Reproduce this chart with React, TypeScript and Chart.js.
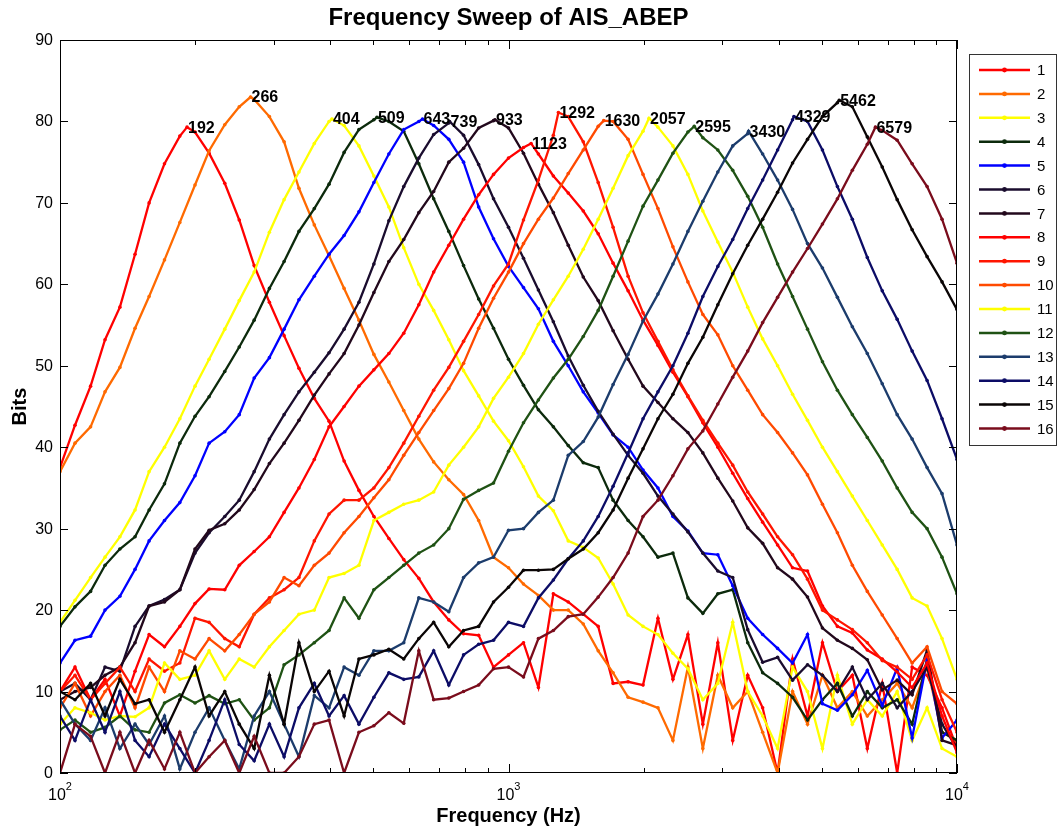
import React, { useEffect, useRef } from "react";
import { Chart, registerables } from "chart.js";

Chart.register(...registerables);

// Sweep frequencies (Hz), shared by every channel
const freqs = [
  100, 108, 117, 126, 136, 147, 158, 171, 185, 200,
  215, 233, 251, 271, 293, 316, 341, 369, 398, 430,
  464, 501, 541, 584, 631, 681, 736, 794, 858, 926,
  1000, 1080, 1166, 1259, 1359, 1468, 1585, 1711, 1848, 1995,
  2154, 2326, 2512, 2712, 2929, 3162, 3415, 3687, 3981, 4299,
  4642, 5012, 5412, 5843, 6310, 6813, 7356, 7943, 8577, 9261, 10000,
];

const channelNames = ["1", "2", "3", "4", "5", "6", "7", "8", "9", "10", "11", "12", "13", "14", "15", "16"];

const channelColors = [
  "#ff0000", "#ff6a00", "#ffff00", "#0c2a0c", "#0000ff", "#1a0c2e", "#22081c", "#ff0000",
  "#ff1500", "#ff4a00", "#ffff00", "#1f5214", "#1c3c6c", "#0c0c66", "#0a0505", "#7a0c1c",
];

// Bits measured per channel at each sweep frequency
const ch1 = [
  37.5, 42.7, 47.5, 53.2, 57.2, 63.7, 70, 74.8, 78.2, 78.7,
  76.1, 72.4, 67.9, 62.3, 57.8, 53.7, 49.7, 46, 43.2, 38.3,
  34.7, 31.5, 28.8, 26.2, 23.9, 21, 18.8, 17.1, 16.9, 13,
  14.5, 16, 10.5, 22, 21, 19.5, 18, 11, 11.2, 10.8,
  19, 11.5, 17, 6, 16, 4, 12, 8, 0, 14,
  7, 16, 10, 12, 3, 11, 0, 13, 12, 8, 3,
];
const ch2 = [
  37, 40.5, 42.5, 46.8, 49.8, 54.6, 58.5, 63, 67.6, 72.2,
  76.4, 79.6, 81.8, 82.7, 80.6, 77.5, 71.8, 67.3, 63.5, 59.5,
  55.6, 51.4, 48, 44.5, 41, 38.2, 36, 34.2, 31, 26.5,
  25.2, 23.2, 21.8, 20, 20, 18.3, 15, 12.3, 9.3, 8.7,
  8, 4, 13, 3, 12, 8, 10, 5, 0, 10,
  6, 12, 8, 10, 7, 9, 11, 8, 13, 5, 4,
];
const ch3 = [
  18.5, 21.2, 24, 26.5, 29, 32.3, 37, 40, 43.5, 47.5,
  50.8, 54.5, 58, 61.5, 66.4, 70.4, 73.8, 77.3, 80, 79.5,
  77, 73.3, 69.5, 64.5, 60, 56.8, 53.2, 49.4, 46.3, 43.2,
  40.8, 37.6, 34, 32.2, 28.5, 27.7, 26.4, 23.2, 19.4, 18,
  17, 14.7, 12.8, 9, 11, 18.5, 10, 7, 3, 13,
  10, 3, 12, 6, 9, 7, 10, 4, 8, 3, 2,
];
const ch4 = [
  18, 20.4, 22.3, 25.5, 27.5, 29, 32.3, 35.5, 40.5, 43.8,
  46.2, 49.3, 52.3, 55.6, 59.5, 62.8, 66.5, 69.3, 72.3, 76.2,
  79, 80.2, 80, 78.8, 74.8, 70.5, 66.5, 62.3, 58.2, 54.6,
  50.8, 47.6, 44.6, 42.5, 40.2, 38.1, 37.5, 33.5, 31, 29,
  26.5, 27, 21.5, 19.6, 22, 22.5, 16, 12.3, 11, 9.3,
  6.5, 9, 11, 7, 10, 8, 9, 6, 14, 5, 4,
];
const ch5 = [
  13.5, 16.3, 16.8, 20, 21.7, 25, 28.5, 31, 33.2, 36.5,
  40.5, 41.9, 44, 48.5, 51, 54.5, 58.1, 61, 63.7, 66,
  68.9, 72.5, 76, 79, 80, 79.5, 77.8, 75, 69.5, 65.6,
  62.2, 59.6, 57, 53, 50, 46.8, 44.2, 41.5, 40, 37.2,
  35, 31.5, 29.7, 27, 26.8, 23, 19, 17, 15.3, 13.5,
  17, 8.5, 7.7, 9.6, 12.6, 8.3, 12.9, 4.3, 13.9, 4.3, 6.5,
];
const ch6 = [
  10, 11, 9, 13, 12.5, 18, 20.5, 21.3, 22.5, 27,
  29.5, 31.5, 33.5, 37, 41, 44, 46.8, 49.2, 51.6, 54.5,
  57.8, 62.5, 67.8, 72, 75.5, 78.4, 79.8, 78.3, 74.7, 70.5,
  67, 63.2, 59.3, 55.4, 51.2, 47.6, 44.4, 41.6, 39, 36.8,
  34, 31.8, 29.6, 27, 24.8, 24, 17.6, 13.6, 14.2, 11.4,
  13.3, 12, 10, 13, 9, 11, 8, 10, 13, 6, 3,
];
const ch7 = [
  9, 10, 10.5, 12, 13, 16, 20.5, 21, 22.5, 27.5,
  29.8, 30.6, 32.3, 34.8, 38, 40.5, 43.3, 46.4, 49, 51.5,
  55, 59, 62.8, 65.5, 68.8, 71.4, 75, 76.7, 79.2, 80.1,
  79.2, 76.1, 72.3, 68.8, 64.8, 60.9, 58, 54.3, 50.8, 47.5,
  45.5, 43.5, 41.8, 39.3, 36.2, 33.4, 30.1, 28.2, 25.2, 23.8,
  21.6, 17.8, 16.3, 15.3, 13.9, 10.2, 11.4, 9.6, 15.1, 4, 3.4,
];
const ch8 = [
  10, 13, 9, 11.5, 7, 12.5, 17, 15.5, 18, 20.8,
  22.6, 22.5, 25.5, 27.2, 29, 32, 35, 38.5, 42.5, 45,
  47.5, 49.5, 51.5, 54, 57.5, 61.5, 64.8, 68, 71, 73.5,
  75.5, 76.8, 76, 73.3, 71.2, 69, 66.2, 62.6, 59.2, 55.6,
  52.5, 49.2, 46.2, 43, 40, 36.8, 33.7, 30.8, 28, 25.2,
  24.8, 20.5, 18, 17.2, 15.1, 14, 12.4, 10.5, 13.5, 7, 2.5,
];
const ch9 = [
  10, 12, 9, 11, 13, 10, 14, 12.5, 13.5, 19,
  18.5, 16.5, 15.5, 19.5, 21.5, 22.5, 24, 28.5, 31.8, 33.5,
  33.5, 35, 37.5, 40.5, 43.8, 47, 49.8, 53, 56.3, 59.8,
  62.5, 67.9, 72.8, 78.3, 80.6, 77.5, 72.5, 67, 61, 56.5,
  53, 49.5, 46.3, 43.3, 40.5, 37.8, 34.5, 31.8, 29, 26.8,
  23.8, 20, 18.8, 17.6, 16, 13.8, 13, 11.5, 14.5, 9, 5,
];
const ch10 = [
  8, 11, 7, 10, 12, 8, 13, 10, 15, 14,
  16.5, 15, 17, 19.5, 21, 24, 23, 25.5, 27, 29.5,
  31.5, 33.8, 36, 39, 41.8, 44.5, 47.2, 50.3, 54.6, 58.3,
  61.5, 65, 68, 70.6, 73.6, 76.5, 79.4, 80, 77.8, 73.5,
  69.3, 64.6, 60.3, 56.3, 53.8, 50, 47, 44, 41.8, 39.3,
  36.6, 33, 29.5, 25.5, 22.3, 19.4, 16.5, 13.5, 15.5, 10, 8.5,
];
const ch11 = [
  6, 8, 7.4, 6.5, 7, 6.9, 8, 13.5, 11.5, 12,
  15, 11.5, 14, 13, 15.5, 17.5, 19.5, 20, 24, 24.5,
  25.5, 31, 32, 33, 33.5, 34.5, 37.8, 40, 42.5, 46,
  48.6, 51.5, 55.1, 58.1, 61, 64.3, 68, 71.8, 75.8, 78.8,
  79.3, 77, 73.5, 69, 65.2, 61.5, 57.2, 53.3, 50, 46.5,
  43.3, 40, 37, 34, 31, 28, 25, 21.5, 20.5, 16.5, 11.5,
];
const ch12 = [
  5.3, 6.5, 5, 5.6, 7, 5.3, 5, 8.6, 9.6, 8.6,
  9.5, 8.5, 9, 6.5, 8, 13.3, 14.5, 16, 17.5, 21.5,
  19, 22.5, 24, 25.5, 27, 28, 30, 33.6, 34.7, 35.6,
  39.5, 43, 45.8, 48.5, 50.8, 53.6, 56.8, 61, 65.3, 69.6,
  72.8, 76.1, 78.7, 78, 76.5, 74, 70.8, 67, 62.5, 58.5,
  54.5, 50.5, 47, 44, 41.2, 38.3, 35, 32, 30, 26.5, 22,
];
const ch13 = [
  9, 6, 4, 8, 3, 6, 3.5, 7, 0.5, 5,
  8, 4, 0.5, 7, 10, 6, 2, 9.5, 8, 13,
  12, 15, 15, 16, 21.5, 21, 19.8, 24, 25.8, 26.5,
  29.8, 30, 32, 33.5, 39, 40.7, 43.7, 47.7, 51.4, 55.5,
  58.8, 62.5, 66.5, 70.2, 73.8, 77, 78.5, 76, 72.8, 69.2,
  65, 62, 58.4, 54.8, 51.5, 47.8, 44, 41, 37.5, 34.3, 28,
];
const ch14 = [
  7, 4, 9, 5, 10, 4, 2, 6, 3, 0,
  4, 9, 3.5, 1.5, 6, 2, 8, 11, 7, 9.5,
  6, 9.3, 12.3, 11.5, 11.8, 15, 10.8, 14.5, 15.8, 16.3,
  18.5, 18, 21.5, 23.7, 26.3, 28.5, 31.5, 35.2, 39.3, 43.5,
  46.8, 50, 54, 58.5, 62.2, 65.5, 69.3, 72.8, 76.5, 80.2,
  80, 76.5, 72, 68, 63.3, 59.2, 55.7, 51.8, 48.2, 43.5, 38.5,
];
const ch15 = [
  10, 9, 11, 7, 11.5, 8.5, 9, 5, 9, 13,
  7, 10, 6, 3, 12, 6, 16, 10, 12.5, 7,
  14, 14.5, 15.2, 14, 16.5, 18.5, 15.5, 17.5, 18, 21,
  22.8, 24.9, 24.9, 25, 26.3, 27.5, 29.5, 32.3, 36.2, 39.8,
  43.5, 46.5, 50.3, 53.5, 57.5, 61.3, 64.8, 68, 71.3, 74.9,
  77.8, 80.6, 82.3, 81.8, 78.1, 74.4, 70.4, 66.7, 63.4, 60.3, 56.9,
];
const ch16 = [
  0, 6, 4.5, 0, 5, 0, 4, 0.5, 5, 0,
  2, 4, 0, 4.5, 0, 0, 2, 6, 6.5, 0,
  5, 5.8, 7.4, 6.1, 15, 9, 9.2, 10, 10.8, 12.8,
  13, 11.8, 16.5, 17.5, 19.2, 19.5, 21.6, 24, 27, 31.5,
  33.5, 36.5, 39.8, 42, 45.3, 48.6, 51.8, 55.3, 58.4, 61.5,
  64.4, 67.4, 70.5, 74, 77.2, 78.9, 77.7, 74.8, 72, 68, 62.6,
];

// Centre frequency (Hz) and peak level of each channel
const peakFreqs = [192, 266, 404, 509, 643, 739, 933, 1123, 1292, 1630, 2057, 2595, 3430, 4329, 5462, 6579];
const peakVals = [79.3, 83, 80.3, 80.5, 80.3, 80, 80.2, 77.3, 81.1, 80.1, 80.4, 79.4, 78.8, 80.6, 82.6, 79.3];

const yTicks = [0, 10, 20, 30, 40, 50, 60, 70, 80, 90];
const xDecades = [100, 1000, 10000];
const xDecadeExps = ["2", "3", "4"];
const xMinorTicks = [200, 300, 400, 500, 600, 700, 800, 900, 2000, 3000, 4000, 5000, 6000, 7000, 8000, 9000];

const channelValues = [ch1, ch2, ch3, ch4, ch5, ch6, ch7, ch8, ch9, ch10, ch11, ch12, ch13, ch14, ch15, ch16];

const FONT = '"Liberation Sans", Arial, Helvetica, sans-serif';

function channelPoints(vals: number[], pf: number, pv: number) {
  const pts = freqs.map((f, i) => ({ x: f, y: vals[i] }));
  pts.push({ x: pf, y: pv });
  pts.sort((a, b) => a.x - b.x);
  return pts;
}

const decorations = {
  id: "decorations",
  afterDatasetsDraw(chart: any) {
    const { ctx, chartArea: a, scales } = chart;
    const xs = scales.x;
    const ys = scales.y;
    ctx.save();

    // centre-frequency labels at each peak
    ctx.fillStyle = "#000";
    ctx.font = `bold 16px ${FONT}`;
    ctx.textAlign = "left";
    ctx.textBaseline = "middle";
    peakFreqs.forEach((f, i) => {
      ctx.fillText(String(f), xs.getPixelForValue(f) + 1, ys.getPixelForValue(peakVals[i]) + 1);
    });

    // axes box
    ctx.strokeStyle = "#000";
    ctx.lineWidth = 1;
    ctx.strokeRect(a.left + 0.5, a.top + 0.5, a.right - a.left - 1, a.bottom - a.top - 1);

    // y ticks (left and right, pointing inward) and labels
    ctx.font = `16px ${FONT}`;
    ctx.textAlign = "right";
    ctx.textBaseline = "middle";
    yTicks.forEach((v) => {
      const y = Math.round(ys.getPixelForValue(v)) + 0.5;
      ctx.beginPath();
      ctx.moveTo(a.left, y);
      ctx.lineTo(a.left + 8, y);
      ctx.moveTo(a.right, y);
      ctx.lineTo(a.right - 8, y);
      ctx.stroke();
      ctx.fillText(String(v), a.left - 7, y);
    });

    // x ticks (top and bottom, inward)
    const xTick = (f: number, len: number) => {
      const x = Math.round(xs.getPixelForValue(f)) + 0.5;
      ctx.beginPath();
      ctx.moveTo(x, a.bottom);
      ctx.lineTo(x, a.bottom - len);
      ctx.moveTo(x, a.top);
      ctx.lineTo(x, a.top + len);
      ctx.stroke();
    };
    xMinorTicks.forEach((f) => xTick(f, 5));
    xDecades.forEach((f) => xTick(f, 9));

    // decade labels 10^n
    ctx.textAlign = "left";
    ctx.textBaseline = "alphabetic";
    xDecades.forEach((f, i) => {
      const x = xs.getPixelForValue(f);
      ctx.font = `16px ${FONT}`;
      const wBase = ctx.measureText("10").width;
      ctx.font = `11px ${FONT}`;
      const wExp = ctx.measureText(xDecadeExps[i]).width;
      const start = x - (wBase + wExp) / 2;
      ctx.font = `16px ${FONT}`;
      ctx.fillText("10", start, a.bottom + 27);
      ctx.font = `11px ${FONT}`;
      ctx.fillText(xDecadeExps[i], start + wBase, a.bottom + 17);
    });

    // titles
    const cx = (a.left + a.right) / 2;
    ctx.textAlign = "center";
    ctx.textBaseline = "middle";
    ctx.font = `bold 24px ${FONT}`;
    ctx.fillText("Frequency Sweep of AIS_ABEP", cx, 18);
    ctx.font = `bold 20px ${FONT}`;
    ctx.fillText("Frequency (Hz)", cx, a.bottom + 43);
    ctx.save();
    ctx.translate(20, (a.top + a.bottom) / 2);
    ctx.rotate(-Math.PI / 2);
    ctx.fillText("Bits", 0, 0);
    ctx.restore();

    // legend
    const lx = 969.5;
    const ly = 54.5;
    ctx.fillStyle = "#fff";
    ctx.fillRect(lx, ly, 87, 391);
    ctx.strokeStyle = "#333";
    ctx.lineWidth = 1;
    ctx.strokeRect(lx, ly, 87, 391);
    ctx.textAlign = "left";
    ctx.font = `15px ${FONT}`;
    channelNames.forEach((name, i) => {
      const y = 70 + i * 23.9;
      ctx.strokeStyle = channelColors[i];
      ctx.lineWidth = 2.5;
      ctx.beginPath();
      ctx.moveTo(979, y);
      ctx.lineTo(1030, y);
      ctx.stroke();
      ctx.fillStyle = channelColors[i];
      ctx.beginPath();
      ctx.arc(1004.5, y, 2.4, 0, Math.PI * 2);
      ctx.fill();
      ctx.fillStyle = "#000";
      ctx.fillText(name, 1037, y + 1);
    });

    ctx.restore();
  },
};

export default function App() {
  const canvasRef = useRef<HTMLCanvasElement | null>(null);

  useEffect(() => {
    const canvas = canvasRef.current;
    if (!canvas) return;
    const datasets = channelValues.map((vals, i) => ({
      label: channelNames[i],
      data: channelPoints(vals, peakFreqs[i], peakVals[i]),
      borderColor: channelColors[i],
      backgroundColor: channelColors[i],
      pointBackgroundColor: channelColors[i],
      pointBorderColor: channelColors[i],
      borderWidth: 2.3,
      pointRadius: 1.8,
      pointBorderWidth: 0,
      tension: 0,
      fill: false,
      order: channelValues.length - i,
    }));
    const chart = new Chart(canvas, {
      type: "line",
      data: { datasets },
      options: {
        animation: false,
        responsive: false,
        maintainAspectRatio: false,
        devicePixelRatio: 1,
        layout: { padding: { left: 60, top: 40, right: 103, bottom: 56 } },
        scales: {
          x: { type: "logarithmic", min: 100, max: 10000, display: false },
          y: { type: "linear", min: 0, max: 90, display: false },
        },
        plugins: {
          legend: { display: false },
          title: { display: false },
          tooltip: { enabled: false },
        },
      },
      plugins: [decorations],
    } as any);
    return () => chart.destroy();
  }, []);

  return (
    <div style={{ position: "absolute", left: 0, top: 0, width: 1060, height: 829, background: "#fff" }}>
      <canvas ref={canvasRef} width={1060} height={829} style={{ width: 1060, height: 829, display: "block" }} />
    </div>
  );
}
